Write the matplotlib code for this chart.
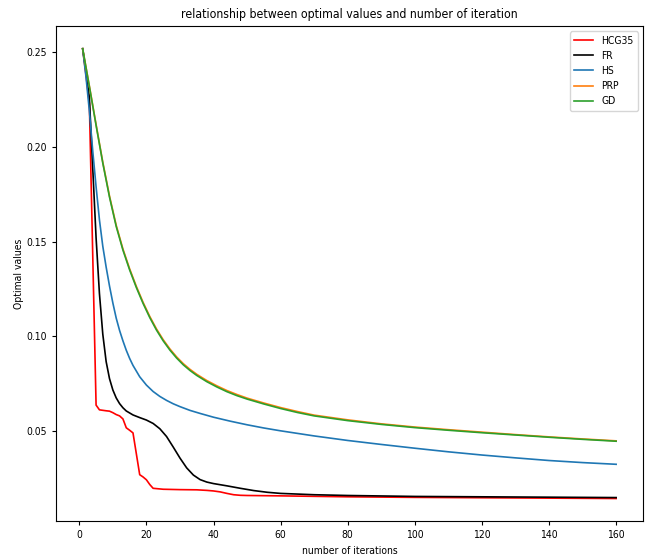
import matplotlib
matplotlib.use("Agg")
import matplotlib.pyplot as plt

plt.rcParams['font.family'] = ['DejaVu Sans']
plt.rcParams['font.stretch'] = 'condensed'

# values (x = iteration number)
hcg_x = [1, 2, 3, 4, 5, 6, 8, 9, 10, 11, 12, 13, 14, 15, 16, 18, 19, 20, 21, 22,
         25, 30, 35, 38, 40, 42, 44, 46, 48, 50, 60, 80, 100, 120, 140, 160]
hcg_y = [0.252, 0.238, 0.223, 0.143, 0.0635, 0.0610, 0.0605, 0.0603, 0.0595, 0.0585,
         0.0578, 0.0562, 0.0515, 0.0502, 0.0488, 0.0267, 0.0255, 0.0240, 0.0215, 0.0195,
         0.0190, 0.0188, 0.0187, 0.0184, 0.0181, 0.0176, 0.0168, 0.0161, 0.0158, 0.0157,
         0.0155, 0.0150, 0.0147, 0.0145, 0.0143, 0.0141]

fr_x = [1, 2, 3, 4, 5, 6, 7, 8, 9, 10, 11, 12, 13, 14, 16, 18, 20, 22, 24, 26,
        28, 30, 32, 34, 36, 38, 40, 44, 48, 52, 56, 60, 70, 80, 100, 120, 140, 160]
fr_y = [0.252, 0.240, 0.226, 0.189, 0.152, 0.1225, 0.101, 0.0865, 0.0775, 0.0715,
        0.0673, 0.0643, 0.0621, 0.0604, 0.0583, 0.0569, 0.0556, 0.0538, 0.0510, 0.0469,
        0.0413, 0.0355, 0.0303, 0.0265, 0.0241, 0.0228, 0.0220, 0.0208, 0.0195, 0.0183,
        0.0174, 0.0168, 0.0161, 0.0157, 0.0152, 0.0150, 0.0148, 0.0146]

hs_x = [1, 2, 3, 4, 5, 6, 7, 8, 9, 10, 11, 12, 13, 14, 15, 16, 18, 20, 22, 24,
        26, 28, 30, 33, 36, 40, 45, 50, 55, 60, 70, 80, 90, 100, 110, 120, 130, 140,
        150, 160]
hs_y = [0.252, 0.237, 0.219, 0.198, 0.179, 0.1615, 0.1475, 0.1365, 0.1265, 0.1175,
        0.1095, 0.1030, 0.0975, 0.0925, 0.0882, 0.0845, 0.0785, 0.0741, 0.0707, 0.0681,
        0.0660, 0.0642, 0.0627, 0.0607, 0.0591, 0.0571, 0.0550, 0.0531, 0.0514, 0.0499,
        0.0472, 0.0448, 0.0427, 0.0407, 0.0388, 0.0371, 0.0356, 0.0342, 0.0331, 0.0322]

gd_x = [1, 3, 5, 7, 9, 11, 13, 15, 17, 19, 21, 23, 25, 27, 29, 31, 33, 35, 38, 41,
        44, 47, 50, 55, 60, 65, 70, 80, 90, 100, 110, 120, 130, 140, 150, 160]
gd_y = [0.2520, 0.2320, 0.2115, 0.1915, 0.1735, 0.1580, 0.1455, 0.1350, 0.1257, 0.1173,
        0.1098, 0.1032, 0.0975, 0.0926, 0.0884, 0.0848, 0.0818, 0.0792, 0.0759, 0.0731,
        0.0706, 0.0685, 0.0667, 0.0641, 0.0617, 0.0596, 0.0578, 0.0553, 0.0533, 0.0516,
        0.0502, 0.0489, 0.0477, 0.0465, 0.0454, 0.0444]
prp_y = [0.2520, 0.2323, 0.2119, 0.1920, 0.1741, 0.1586, 0.1461, 0.1356, 0.1263, 0.1179,
         0.1104, 0.1038, 0.0981, 0.0932, 0.0890, 0.0854, 0.0824, 0.0798, 0.0765, 0.0737,
         0.0712, 0.0691, 0.0672, 0.0646, 0.0622, 0.0601, 0.0582, 0.0557, 0.0536, 0.0519,
         0.0505, 0.0492, 0.0479, 0.0467, 0.0456, 0.0446]

fig = plt.figure(figsize=(6.48, 5.58), dpi=100)
ax = fig.add_axes([0.0864, 0.0663, 0.9056, 0.8867])

lw = 1.2
ax.plot(hcg_x, hcg_y, color='red', lw=lw, label='HCG35')
ax.plot(fr_x, fr_y, color='black', lw=lw, label='FR')
ax.plot(hs_x, hs_y, color='tab:blue', lw=lw, label='HS')
ax.plot(gd_x, prp_y, color='tab:orange', lw=lw, label='PRP')
ax.plot(gd_x, gd_y, color='tab:green', lw=lw, label='GD')

ax.set_xticks(range(0, 161, 20))
ax.set_yticks([0.05, 0.10, 0.15, 0.20, 0.25])
ax.tick_params(labelsize=7.5, length=3)
ax.set_title("relationship between optimal values and number of iteration", fontsize=8.8, pad=6)
ax.set_xlabel("number of iterations", fontsize=7.5)
ax.set_ylabel("Optimal values", fontsize=7.5, labelpad=2)
ax.legend(loc='upper right', fontsize=7.5, handlelength=1.8)

fig.savefig("out.png", dpi=100)
